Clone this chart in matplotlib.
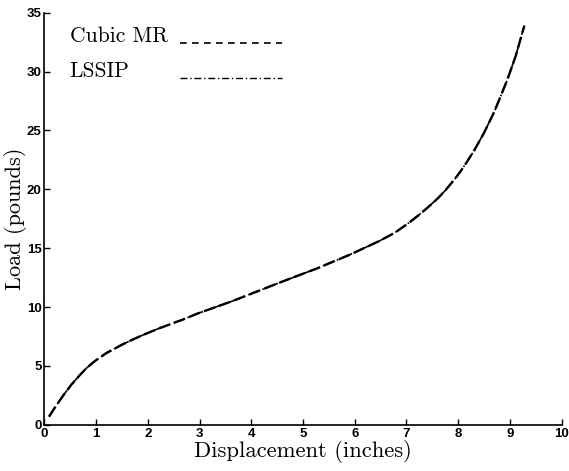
import numpy as np
import matplotlib
matplotlib.use("Agg")
from matplotlib import pyplot as plt
from matplotlib.lines import Line2D

# ------------------------- Data --------------------------

displacement = [0.09, 0.23, 0.39, 0.52, 0.68, 0.81, 0.97, 1.2, 1.52, 1.71, 1.97,
                2.22, 2.48, 2.73, 2.96, 3.31, 3.63, 3.95, 4.27, 4.59, 4.95, 5.28,
                5.55, 5.88, 6.2, 6.47, 6.77, 7.03, 7.22, 7.41, 7.61, 7.75, 7.93,
                8.05, 8.18, 8.31, 8.5, 8.7, 8.95, 9.11, 9.28]
cubic_mr = [0.7, 1.65, 2.65, 3.4, 4.2, 4.8, 5.4, 6.1, 6.85, 7.25, 7.75,
            8.2, 8.62, 9.03, 9.45, 10.0, 10.5, 11.05, 11.6, 12.15, 12.75, 13.3,
            13.8, 14.4, 15.05, 15.6, 16.3, 17.1, 17.75, 18.45, 19.25, 19.9, 20.85,
            21.55, 22.4, 23.3, 24.8, 26.6, 29.3, 31.3, 33.9]
lssip = [0.7, 1.65, 2.65, 3.4, 4.2, 4.8, 5.4, 6.1, 6.85, 7.25, 7.75,
         8.2, 8.62, 9.03, 9.45, 10.0, 10.5, 11.05, 11.6, 12.15, 12.75, 13.3,
         13.8, 14.4, 15.05, 15.6, 16.3, 17.1, 17.75, 18.45, 19.25, 19.9, 20.85,
         21.55, 22.4, 23.3, 24.8, 26.6, 29.3, 31.3, 33.9]
series_names = ["Cubic MR", "LSSIP"]
x_ticks = list(range(0, 11))
y_ticks = list(range(0, 36, 5))

# ------------------------- Plot --------------------------

serif = "cmr10"
sans = "Liberation Sans"

fig = plt.figure(figsize=(5.69, 4.71), dpi=100)
ax = fig.add_axes([0.078, 0.098, 0.909, 0.875])

ax.plot(displacement, cubic_mr, color="black", lw=1.7, linestyle=(0, (5, 1.8)))
ax.plot(displacement, lssip, color="black", lw=1.2, linestyle=(0, (7, 2, 1, 2)))

ax.set_xlim(0, 10)
ax.set_ylim(0, 35)
ax.set_xticks(x_ticks)
ax.set_yticks(y_ticks)
ax.tick_params(direction="in", length=4, width=1, labelsize=9.5, pad=2)
for lbl in ax.get_xticklabels() + ax.get_yticklabels():
	lbl.set_fontfamily(sans)
	lbl.set_fontweight("bold")

for side in ["top", "right"]:
	ax.spines[side].set_visible(False)
for side in ["left", "bottom"]:
	ax.spines[side].set_linewidth(1.2)

ax.set_xlabel("Displacement (inches)", fontfamily=serif, fontsize=16.3, labelpad=0)
ax.set_ylabel("Load (pounds)", fontfamily=serif, fontsize=16, labelpad=0)

# legend drawn matlab style: label text left, line sample right
styles = [dict(lw=1.2, linestyle=(0, (4, 3.2))), dict(lw=1.0, linestyle=(0, (5, 2, 1, 2)))]
text_y = [0.93, 0.845]
for i, name in enumerate(series_names):
	ax.text(0.049, text_y[i], name, transform=ax.transAxes, fontfamily=serif,
		fontsize=15.5, va="baseline", ha="left")
	ax.add_line(Line2D([0.263, 0.46], [text_y[i] - 0.004, text_y[i] - 0.004],
		transform=ax.transAxes, color="black", **styles[i]))

fig.savefig("out.png", dpi=100)
